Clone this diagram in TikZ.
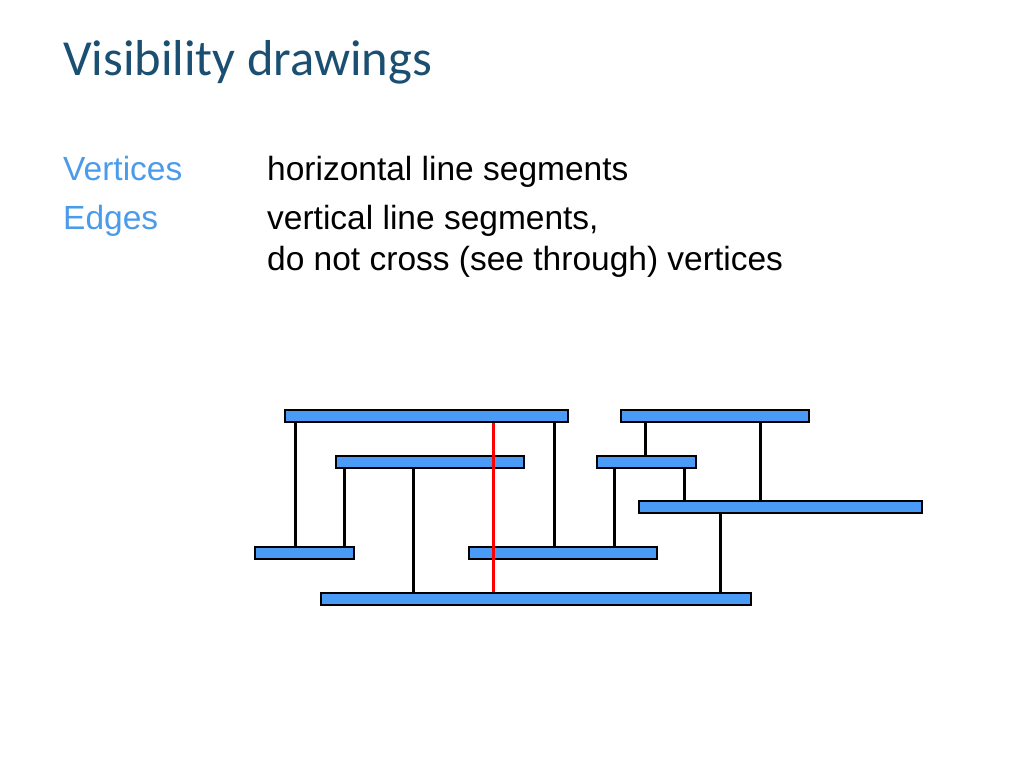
\documentclass[tikz,border=0pt]{standalone}
\usepackage{fontspec}
\setmainfont{Liberation Sans}
\newfontfamily\titlefont{Carlito}
\definecolor{titleblue}{HTML}{1B4F72}
\definecolor{keyblue}{HTML}{4A9BEA}
\definecolor{barblue}{HTML}{4A9BF5}
\begin{document}
\begin{tikzpicture}
  [x=1pt,y=-1pt,
   bar/.style={draw=black,line width=2pt,fill=barblue,inner sep=0pt,minimum height=12pt},
   edge/.style={draw=black,line width=3pt},
   cross/.style={draw=red,line width=3pt},
   body/.style={anchor=base west,inner sep=0pt,font=\fontsize{33.5}{40}\selectfont}]
  \useasboundingbox (0,0) rectangle (1024,768);
  \node[anchor=base west,inner sep=0pt,text=titleblue,font=\titlefont\fontsize{50.5}{60}\selectfont] (title) at (63,75) {Visibility drawings};
  \node[body,text=keyblue] (kv) at (63,180) {Vertices};
  \node[body,text=keyblue] (ke) at (63,229) {Edges};
  \node[body] (tv) at (267,180) {horizontal line segments};
  \node[body] (te) at (267,229) {vertical line segments,};
  \node[body] (te2) at (267,270) {do not cross (see through) vertices};
  % vertices
  \node[bar,minimum width=283pt] (a) at (426.5,415.5) {};
  \node[bar,minimum width=188pt] (b) at (715,415.5) {};
  \node[bar,minimum width=188pt] (c) at (430,461.5) {};
  \node[bar,minimum width=99pt] (d) at (646.5,461.5) {};
  \node[bar,minimum width=283pt] (e) at (780.5,507) {};
  \node[bar,minimum width=99pt] (f) at (304.5,552.5) {};
  \node[bar,minimum width=188pt] (g) at (563,552.5) {};
  \node[bar,minimum width=430pt] (h) at (536,598.5) {};
  % edges
  \draw[edge] (295,0 |- a.south) -- (295,0 |- f.north);
  \draw[edge] (344,0 |- c.south) -- (344,0 |- f.north);
  \draw[edge] (413,0 |- c.south) -- (413,0 |- h.north);
  \draw[edge] (554,0 |- a.south) -- (554,0 |- g.north);
  \draw[edge] (645,0 |- b.south) -- (645,0 |- d.north);
  \draw[edge] (760,0 |- b.south) -- (760,0 |- e.north);
  \draw[edge] (614,0 |- d.south) -- (614,0 |- g.north);
  \draw[edge] (684,0 |- d.south) -- (684,0 |- e.north);
  \draw[edge] (720,0 |- e.south) -- (720,0 |- h.north);
  \draw[cross] (493,0 |- a.south) -- (493,0 |- h.north);
\end{tikzpicture}
\end{document}
